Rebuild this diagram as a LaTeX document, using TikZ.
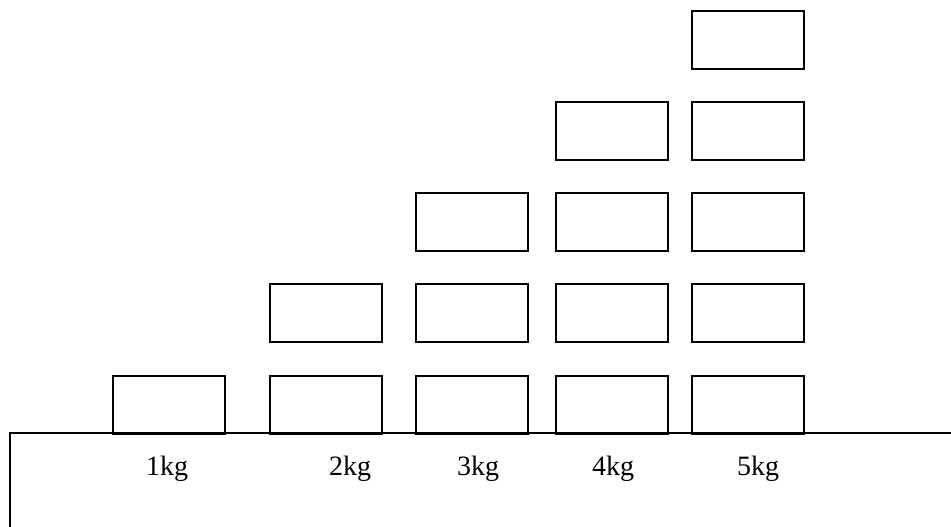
\documentclass[tikz,border=0pt]{standalone}
\usepackage{fontspec}
\setmainfont{Liberation Serif}
\begin{document}
\begin{tikzpicture}[x=1pt,y=-1pt,
  weight/.style={draw=black,line width=2.2pt,minimum width=112pt,minimum height=58pt,inner sep=0pt,anchor=north west},
  lbl/.style={font=\fontsize{28}{32}\selectfont,inner sep=0pt,anchor=base}]
\useasboundingbox (0,0) rectangle (951,527);
% columns x (left edges) and row tops
\foreach \c/\x/\n in {1/112/1,2/269/2,3/415/3,4/555/4,5/691/5}{
  \foreach \r/\y in {1/375,2/283,3/192,4/101,5/10}{
    \ifnum\r>\n\relax\else
      \node[weight] (b\c\r) at (\x,\y) {};
    \fi
  }
}
\coordinate (tl) at (10,433);
\coordinate (tr) at (951,433);
\coordinate (bl) at (10,527);
\draw[line width=2.2pt] (bl) -- (tl) -- (tr);
\node[lbl] (l1) at (167,475) {1kg};
\node[lbl] (l2) at (350,475) {2kg};
\node[lbl] (l3) at (478,475) {3kg};
\node[lbl] (l4) at (613,475) {4kg};
\node[lbl] (l5) at (758,475) {5kg};
\end{tikzpicture}
\end{document}
